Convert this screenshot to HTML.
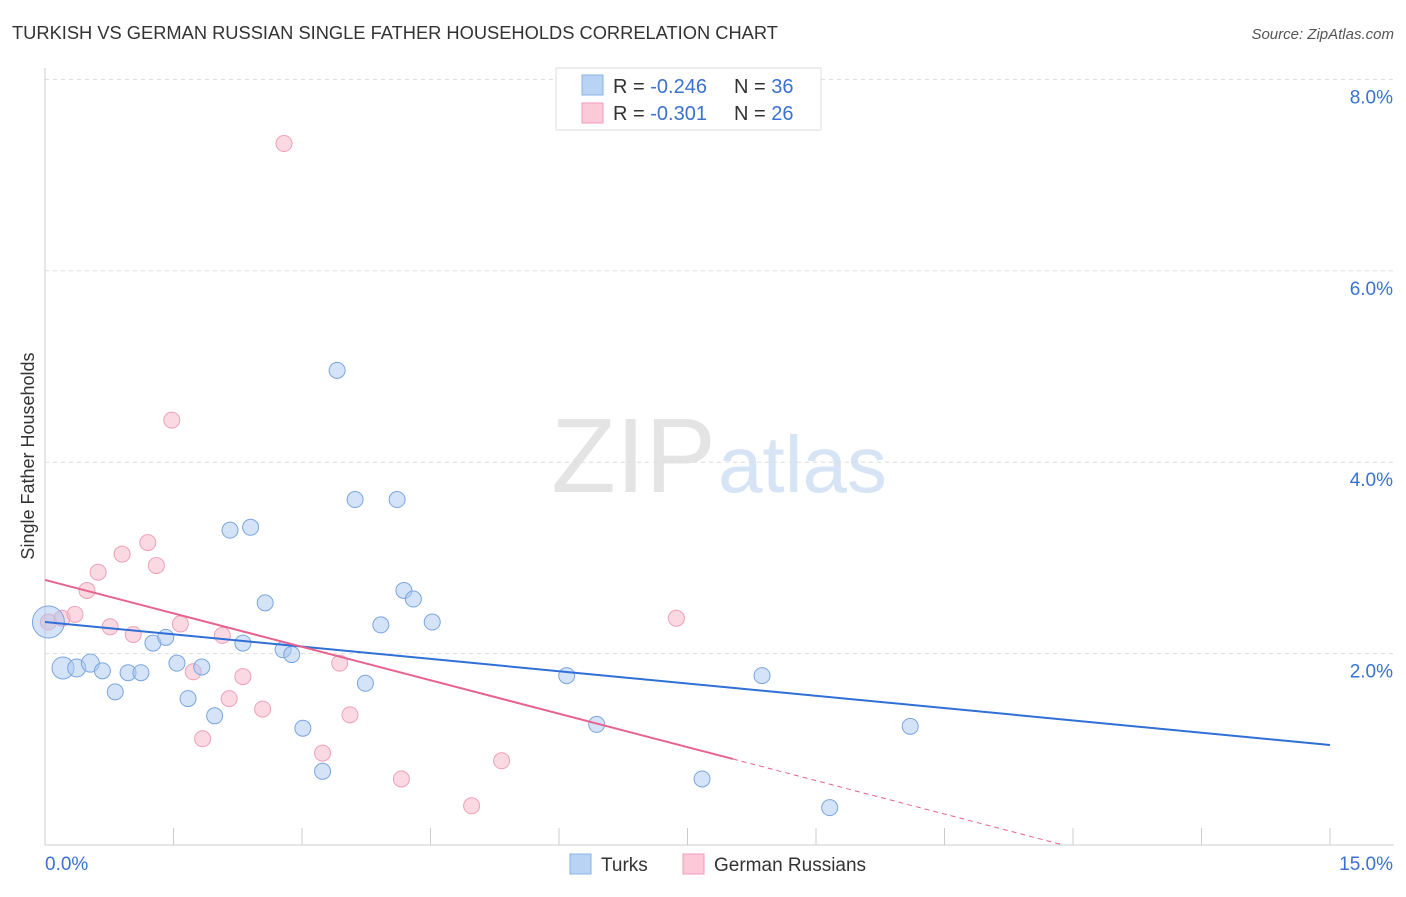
<!DOCTYPE html>
<html><head><meta charset="utf-8"><style>
body{margin:0;background:#fff;font-family:"Liberation Sans",sans-serif;}
svg text{font-family:"Liberation Sans",sans-serif;}
</style></head><body>
<svg id="c" width="1406" height="892" xmlns="http://www.w3.org/2000/svg">
<text x="12" y="39" font-size="18.3" fill="#333">TURKISH VS GERMAN RUSSIAN SINGLE FATHER HOUSEHOLDS CORRELATION CHART</text>
<text x="1394" y="39" font-size="15" fill="#555" text-anchor="end" font-style="italic">Source: ZipAtlas.com</text>
<text x="716" y="492" font-size="106" text-anchor="end" fill="#e4e4e4" font-family="Liberation Serif">ZIP</text>
<text x="718" y="492" font-size="80" fill="#d6e4f5">atlas</text>
<text transform="translate(34,456) rotate(-90)" font-size="18" fill="#333" text-anchor="middle">Single Father Households</text>
<g id="grid"></g><g id="marks"></g>
<g>
<rect x="556" y="68" width="265" height="62" fill="#fff" stroke="#ddd"/>
<rect x="582" y="75" width="21" height="20" fill="#b9d3f5" stroke="#8ab0e6"/>
<rect x="582" y="103" width="21" height="20" fill="#fcc9d8" stroke="#f09ab5"/>
<text x="613" y="93" font-size="20" fill="#333">R = <tspan fill="#3a72d1">-0.246</tspan><tspan x="734">N = </tspan><tspan fill="#3a72d1">36</tspan></text>
<text x="613" y="120" font-size="20" fill="#333">R = <tspan fill="#3a72d1"> -0.301</tspan><tspan x="734">N = </tspan><tspan fill="#3a72d1">26</tspan></text>
</g>
<g>
<rect x="570" y="854" width="21" height="20" fill="#b9d3f5" stroke="#8ab0e6"/>
<text x="601" y="871" font-size="19" fill="#333">Turks</text>
<rect x="683" y="854" width="21" height="20" fill="#fcc9d8" stroke="#f09ab5"/>
<text x="714" y="871" font-size="19" fill="#333">German Russians</text>
</g>
</svg>
<script>
const yTicks=[2,4,6,8];
const xTickLabels=["0.0%","15.0%"];
const turksX=[0.04,0.21,0.37,0.53,0.67,0.82,0.97,1.12,1.26,1.41,1.54,1.67,1.83,1.98,2.16,2.31,2.40,2.57,2.78,2.88,3.01,3.24,3.41,3.62,3.74,3.92,4.11,4.19,4.30,4.52,6.09,6.44,7.67,8.37,9.16,10.10];
const turksY=[2.33,1.85,1.85,1.90,1.82,1.60,1.80,1.80,2.11,2.17,1.90,1.53,1.86,1.35,3.29,2.11,3.32,2.53,2.04,1.99,1.22,0.77,4.96,3.61,1.69,2.30,3.61,2.66,2.57,2.33,1.77,1.26,0.69,1.77,0.39,1.24];
const turksR=[16,11,9,9,8,8,8,8,8,8,8,8,8,8,8,8,8,8,8,8,8,8,8,8,8,8,8,8,8,8,8,8,8,8,8,8];
const grX=[0.04,0.20,0.35,0.49,0.62,0.76,0.90,1.03,1.20,1.30,1.48,1.58,1.73,1.84,2.07,2.15,2.31,2.54,2.79,3.24,3.44,3.56,4.16,4.98,5.33,7.37];
const grY=[2.33,2.37,2.41,2.66,2.85,2.28,3.04,2.20,3.16,2.92,4.44,2.31,1.81,1.11,2.19,1.53,1.76,1.42,7.33,0.96,1.90,1.36,0.69,0.41,0.88,2.37];
const turksLine=[2.33,1.045];
const grLine=[2.77,-0.233];
const X0=45,X1=1330,Y0=845,PY=95.7;
const sx=v=>X0+v*(X1-X0)/15, sy=v=>Y0-v*PY;
const NS="http://www.w3.org/2000/svg";
function mk(t,a,p){const e=document.createElementNS(NS,t);for(const k in a)e.setAttribute(k,a[k]);p.appendChild(e);return e;}
const g=document.getElementById('grid'),m=document.getElementById('marks');
let ax=mk('line',{x1:X0,y1:68,x2:X0,y2:Y0,stroke:'#ccc'},g);

let bx=mk('line',{x1:X0,y1:Y0,x2:1394,y2:Y0,stroke:'#ccc'},g);

for(let i=1;i<=10;i++){let t=mk('line',{x1:sx(i*1.5),y1:Y0,x2:sx(i*1.5),y2:Y0-17,stroke:'#ccc'},g);
}
yTicks.forEach(v=>{let l=mk('line',{x1:X0,y1:sy(v),x2:1394,y2:sy(v),stroke:'#ddd','stroke-dasharray':'4,4'},g);

let t=mk('text',{x:1393,y:sy(v)+24,'font-size':19,fill:'#3a72d1','text-anchor':'end'},g);t.textContent=v.toFixed(1)+'%';
});
let t0=mk('text',{x:45,y:870,'font-size':19,fill:'#3a72d1'},g);t0.textContent=xTickLabels[0];

let t1=mk('text',{x:1393,y:870,'font-size':19,fill:'#3a72d1','text-anchor':'end'},g);t1.textContent=xTickLabels[1];

grX.forEach((x,i)=>{let c=mk('circle',{cx:sx(x),cy:sy(grY[i]),r:8,fill:'rgba(248,180,200,0.5)',stroke:'#f0a0b8','stroke-width':1},m);
});
turksX.forEach((x,i)=>{let c=mk('circle',{cx:sx(x),cy:sy(turksY[i]),r:turksR[i],fill:'rgba(170,200,240,0.5)',stroke:'#7aa5e0','stroke-width':1},m);
});
let bl=mk('line',{x1:sx(0),y1:sy(turksLine[0]),x2:sx(15),y2:sy(turksLine[1]),stroke:'#2f6fd6','stroke-width':2},m);

const xe=8.03,xz=-grLine[0]/grLine[1];
let pl=mk('line',{x1:sx(0),y1:sy(grLine[0]),x2:sx(xe),y2:sy(grLine[0]+grLine[1]*xe),stroke:'#e8628f','stroke-width':2},m);

let pd=mk('line',{x1:sx(xe),y1:sy(grLine[0]+grLine[1]*xe),x2:sx(xz),y2:sy(0),stroke:'#e8628f','stroke-width':1,'stroke-dasharray':'5,4'},m);

</script>
</body></html>
